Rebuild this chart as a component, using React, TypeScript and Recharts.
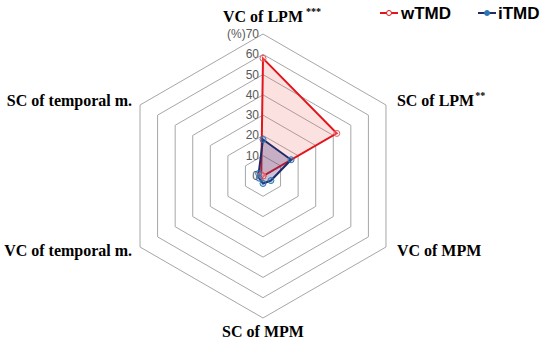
import React from "react";
import { RadarChart, Radar, PolarGrid, PolarAngleAxis, PolarRadiusAxis } from "recharts";

const categories = ["VC of LPM", "SC of LPM", "VC of MPM", "SC of MPM", "VC of temporal m.", "SC of temporal m."];
const significance = ["***", "**", "", "", "", ""];
const wTMDValues = [58, 42, 0, 0, 0, 1];
const iTMDValues = [18, 16, 4.5, 3.7, 2.2, 2.5];
const radiusTicks = [0, 10, 20, 30, 40, 50, 60, 70];

const data = categories.map((c, i) => ({
  category: c,
  sig: significance[i],
  wTMD: wTMDValues[i],
  iTMD: iTMDValues[i],
}));

const CX = 263;
const CY = 176;

const AngleTick = (props: any) => {
  const { x, y, payload, index } = props;
  const sig = significance[index] || "";
  let anchor = "middle";
  let dy = 5;
  if (x > CX + 5) anchor = "start";
  else if (x < CX - 5) anchor = "end";
  else if (y < CY) dy = -4;
  else dy = 11;
  let dx = anchor === "start" ? 4 : anchor === "end" ? -1 : 0;
  if (anchor === "middle" && sig) dx += sig.length * 2.5 + 1.5;
  return (
    <text
      x={x + dx}
      y={y + dy}
      textAnchor={anchor}
      fontFamily="'Liberation Serif', 'Times New Roman', serif"
      fontWeight="bold"
      fontSize={16}
      fill="#000"
    >
      {payload.value}
      {sig ? (
        <tspan fontSize={10} dx={anchor === "middle" ? 3 : 1} dy={-7}>
          {sig}
        </tspan>
      ) : null}
    </text>
  );
};

const RadiusTick = (props: any) => {
  const { x, y, payload } = props;
  const label = payload.value === 70 ? "(%)70" : String(payload.value);
  return (
    <text
      x={x - 4}
      y={y + 4}
      textAnchor="end"
      fontFamily="'Liberation Sans', Arial, sans-serif"
      fontSize={12}
      fill="#595959"
    >
      {label}
    </text>
  );
};

const Legend = () => (
  <svg width={550} height={30} style={{ position: "absolute", left: 0, top: 0 }}>
    <line x1={380} y1={13} x2={398} y2={13} stroke="#e0161c" strokeWidth={2} />
    <circle cx={389} cy={13} r={2.5} fill="#fff" stroke="#e0161c" strokeWidth={1} />
    <text x={401} y={19} fontFamily="'Liberation Sans', Arial, sans-serif" fontWeight="bold" fontSize={17} fill="#000">
      wTMD
    </text>
    <line x1={478} y1={13} x2={496} y2={13} stroke="#1f2a6b" strokeWidth={2} />
    <circle cx={487} cy={13} r={2.5} fill="#2e75b6" stroke="#2e75b6" strokeWidth={1} />
    <text x={498} y={19} fontFamily="'Liberation Sans', Arial, sans-serif" fontWeight="bold" fontSize={17} fill="#000">
      iTMD
    </text>
  </svg>
);

export default function App() {
  return (
    <div style={{ position: "absolute", left: 0, top: 0, width: 550, height: 345, background: "#fff" }}>
      <RadarChart
        width={550}
        height={345}
        data={data}
        cx={CX}
        cy={CY}
        outerRadius={142}
        margin={{ top: 0, right: 0, bottom: 0, left: 0 }}
      >
        <PolarGrid gridType="polygon" radialLines={false} stroke="#a6a6a6" strokeWidth={1} />
        <PolarAngleAxis dataKey="category" tick={AngleTick} tickLine={false} axisLine={false} />
        <PolarRadiusAxis
          angle={90}
          domain={[0, 70]}
          ticks={radiusTicks}
          tickCount={8}
          axisLine={false}
          tickLine={false}
          tick={RadiusTick}
        />
        <Radar
          name="wTMD"
          dataKey="wTMD"
          stroke="#e0161c"
          strokeWidth={2}
          fill="#f26b6b"
          fillOpacity={0.2}
          dot={{ r: 3, fill: "#fde3e3", stroke: "#e8595d", strokeWidth: 1 }}
          isAnimationActive={false}
        />
        <Radar
          name="iTMD"
          dataKey="iTMD"
          stroke="#1f2a6b"
          strokeWidth={2}
          fill="#3a2f7a"
          fillOpacity={0.28}
          dot={{ r: 3, fill: "#2e75b6", stroke: "#2e75b6", strokeWidth: 1 }}
          isAnimationActive={false}
        />
      </RadarChart>
      <Legend />
    </div>
  );
}
